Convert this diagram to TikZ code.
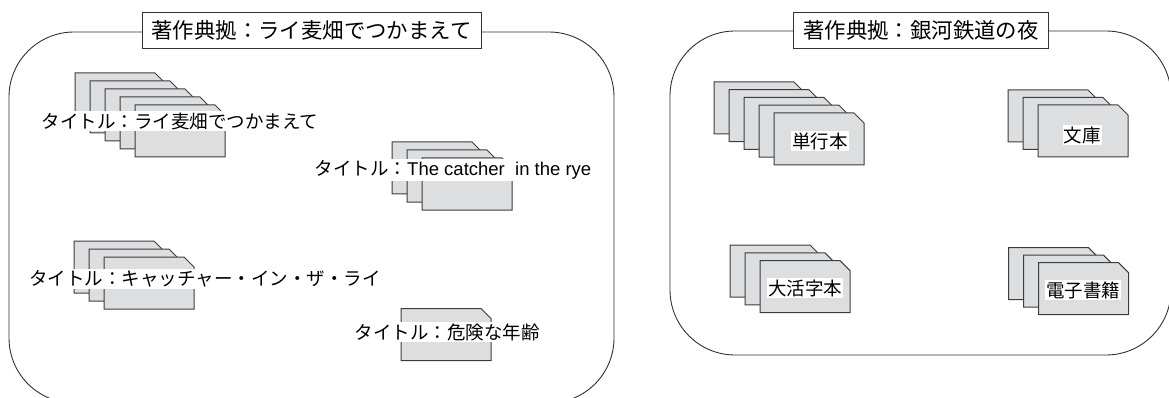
\documentclass[tikz,border=0pt]{standalone}
\usepackage{fontspec}
\setmainfont{Noto Sans CJK JP}
\newfontfamily\latinfont{Liberation Sans}
\definecolor{cardfill}{RGB}{221,222,224}
\definecolor{carddraw}{RGB}{60,60,60}
\definecolor{boxdraw}{RGB}{50,50,50}
\begin{document}
\begin{tikzpicture}[x=1pt,y=-1pt,
  container/.style={draw=boxdraw,line width=0.9pt,rounded corners=65pt},
  titlebox/.style={draw=boxdraw,line width=0.9pt,fill=white,minimum height=36pt,inner xsep=9.5pt,inner ysep=0pt,font=\fontsize{21.4}{24}\selectfont},
  cardlabel/.style={fill=white,inner xsep=1pt,inner ysep=1.2pt,font=\fontsize{18.5}{20}\selectfont},
  card/.pic={\draw[draw=carddraw,fill=cardfill,line width=1pt] (0,0) -- (80,0) -- (90,10) -- (90,52) -- (0,52) -- cycle;}
]
\useasboundingbox (0,0) rectangle (1169,398);
% containers
\draw[container] (9,32) rectangle (614,403);
\draw[container] (670,31) rectangle (1171,355);
\node[titlebox] (t1) at (311.5,30) {著作典拠：ライ麦畑でつかまえて};
\node[titlebox] (t2) at (921,30) {著作典拠：銀河鉄道の夜};
% left stacks
\foreach \i in {0,...,4} \pic at ({75+15*\i},{73+8*\i}) {card};
\node[cardlabel] (l1) at (180,121) {タイトル：ライ麦畑でつかまえて};
\foreach \i in {0,...,2} \pic at ({392+15*\i},{142+8*\i}) {card};
\node[cardlabel] (l2) at (453,170) {タイトル：{\latinfont The catcher~ in the rye}};
\foreach \i in {0,...,2} \pic at ({74+15*\i},{241+8*\i}) {card};
\node[cardlabel] (l3) at (205,279) {タイトル：キャッチャー・イン・ザ・ライ};
\pic at (401,308.5) {card};
\node[cardlabel] (l4) at (447,332) {タイトル：危険な年齢};
% right stacks
\foreach \i in {0,...,4} \pic at ({714+15*\i},{82+7.75*\i}) {card};
\node[cardlabel] (r1) at (820,141) {単行本};
\foreach \i in {0,...,2} \pic at ({1008+15*\i},{90+7.5*\i}) {card};
\node[cardlabel] (r2) at (1082,135) {文庫};
\foreach \i in {0,...,2} \pic at ({730+15*\i},{245+7.85*\i}) {card};
\node[cardlabel] (r3) at (805,288) {大活字本};
\foreach \i in {0,...,2} \pic at ({1008.5+15*\i},{247.7+7.5*\i}) {card};
\node[cardlabel] (r4) at (1083,290) {電子書籍};
\end{tikzpicture}
\end{document}
